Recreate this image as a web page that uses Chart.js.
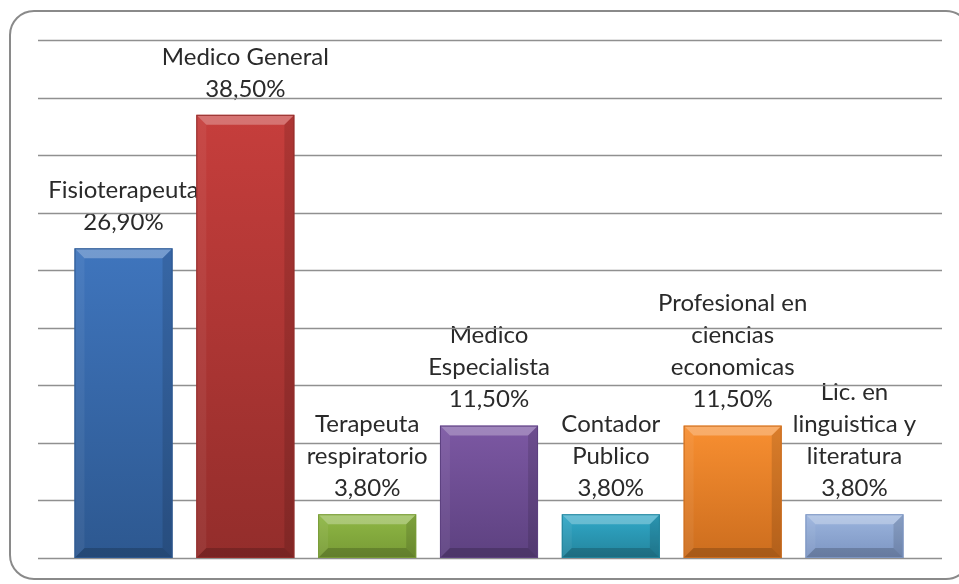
<!DOCTYPE html>
<html>
<head>
<meta charset="utf-8">
<script src="https://cdn.jsdelivr.net/npm/chart.js@4/dist/chart.umd.min.js"></script>
<style>
  html, body { margin: 0; padding: 0; background: #fff; }
  #chart { display: block; }
</style>
</head>
<body>
<canvas id="chart" width="959" height="584"></canvas>
<script>
// Profesiones (porcentaje)
const categories = [
  ['Fisioterapeuta'],
  ['Medico General'],
  ['Terapeuta', 'respiratorio'],
  ['Medico', 'Especialista'],
  ['Contador', 'Publico'],
  ['Profesional en', 'ciencias', 'economicas'],
  ['Lic. en', 'linguistica y', 'literatura']
];
const values = [26.9, 38.5, 3.8, 11.5, 3.8, 11.5, 3.8];
const yMin = 0;
const yMax = 45;
const yStep = 5;

// top / bottom shade of each bar
const barTop = ['#3f75bd', '#c63e3c', '#8fb845', '#7c58a3', '#31a9c9', '#f88f31', '#9cb5de'];
const barBottom = ['#2d5890', '#932d2b', '#779a35', '#5d4180', '#23849c', '#cc6d1e', '#7c95c2'];

const FONT = '24px Lato, "Open Sans", sans-serif';

function pct(v) {
  return v.toFixed(2).replace('.', ',') + '%';
}

// rounded frame around the whole chart
const framePlugin = {
  id: 'frame',
  beforeDraw(chart) {
    const ctx = chart.ctx;
    ctx.save();
    ctx.strokeStyle = '#8a8a8a';
    ctx.lineWidth = 2;
    ctx.beginPath();
    ctx.roundRect(10, 11, 960, 568, 24);
    ctx.stroke();
    ctx.restore();
  }
};

// labels above the bars, then the horizontal grid
const labelGridPlugin = {
  id: 'labelGrid',
  beforeDatasetsDraw(chart) {
    const ctx = chart.ctx;
    const meta = chart.getDatasetMeta(0);
    ctx.save();
    ctx.font = FONT;
    ctx.fillStyle = '#2a2a2a';
    ctx.textAlign = 'center';
    ctx.textBaseline = 'middle';
    meta.data.forEach((bar, i) => {
      const lines = categories[i].concat([pct(values[i])]);
      let y = bar.y - 26;
      for (let k = lines.length - 1; k >= 0; k--) {
        ctx.fillText(lines[k], bar.x, y);
        y -= 32;
      }
    });

    const yScale = chart.scales.y;
    ctx.strokeStyle = '#909090';
    ctx.lineWidth = 1.3;
    for (let v = yMin; v <= yMax; v += yStep) {
      const py = Math.round(yScale.getPixelForValue(v)) + 0.5;
      ctx.beginPath();
      ctx.moveTo(38, py);
      ctx.lineTo(942, py);
      ctx.stroke();
    }
    ctx.restore();
  },
  afterDatasetsDraw(chart) {
    // bevel on each bar
    const ctx = chart.ctx;
    const meta = chart.getDatasetMeta(0);
    ctx.save();
    meta.data.forEach((bar, i) => {
      const l = bar.x - bar.width / 2;
      const r = bar.x + bar.width / 2;
      const t = bar.y;
      const b = bar.base;
      const d = Math.min(10, (b - t) / 3);
      const quad = (pts, color) => {
        ctx.beginPath();
        ctx.moveTo(pts[0], pts[1]);
        for (let k = 2; k < pts.length; k += 2) ctx.lineTo(pts[k], pts[k + 1]);
        ctx.closePath();
        ctx.fillStyle = color;
        ctx.fill();
      };
      quad([l, t, r, t, r - d, t + d, l + d, t + d], 'rgba(255,255,255,0.28)');
      quad([l, t, l + d, t + d, l + d, b - d, l, b], 'rgba(255,255,255,0.06)');
      quad([r, t, r, b, r - d, b - d, r - d, t + d], 'rgba(0,0,0,0.12)');
      quad([l, b, l + d, b - d, r - d, b - d, r, b], 'rgba(0,0,0,0.18)');
      ctx.strokeStyle = barBottom[i];
      ctx.lineWidth = 1;
      ctx.strokeRect(l + 0.5, t + 0.5, r - l - 1, b - t - 1);
    });
    ctx.restore();
  }
};

function barFill(context) {
  const chart = context.chart;
  const i = context.dataIndex;
  if (!chart.chartArea || !chart.scales.y) return barTop[i];
  const yScale = chart.scales.y;
  const top = yScale.getPixelForValue(values[i]);
  const base = yScale.getPixelForValue(0);
  const g = chart.ctx.createLinearGradient(0, top, 0, base);
  g.addColorStop(0, barTop[i]);
  g.addColorStop(1, barBottom[i]);
  return g;
}

new Chart(document.getElementById('chart'), {
  type: 'bar',
  data: {
    labels: categories,
    datasets: [{
      data: values,
      backgroundColor: barFill,
      borderWidth: 0,
      barPercentage: 0.805,
      categoryPercentage: 1
    }]
  },
  options: {
    responsive: false,
    animation: false,
    layout: { padding: { left: 62.6, right: 43.6, top: 40, bottom: 26 } },
    plugins: {
      legend: { display: false },
      tooltip: { enabled: false }
    },
    scales: {
      x: { display: false },
      y: {
        display: false,
        min: yMin,
        max: yMax,
        ticks: { stepSize: yStep }
      }
    }
  },
  plugins: [framePlugin, labelGridPlugin]
});
</script>
</body>
</html>
